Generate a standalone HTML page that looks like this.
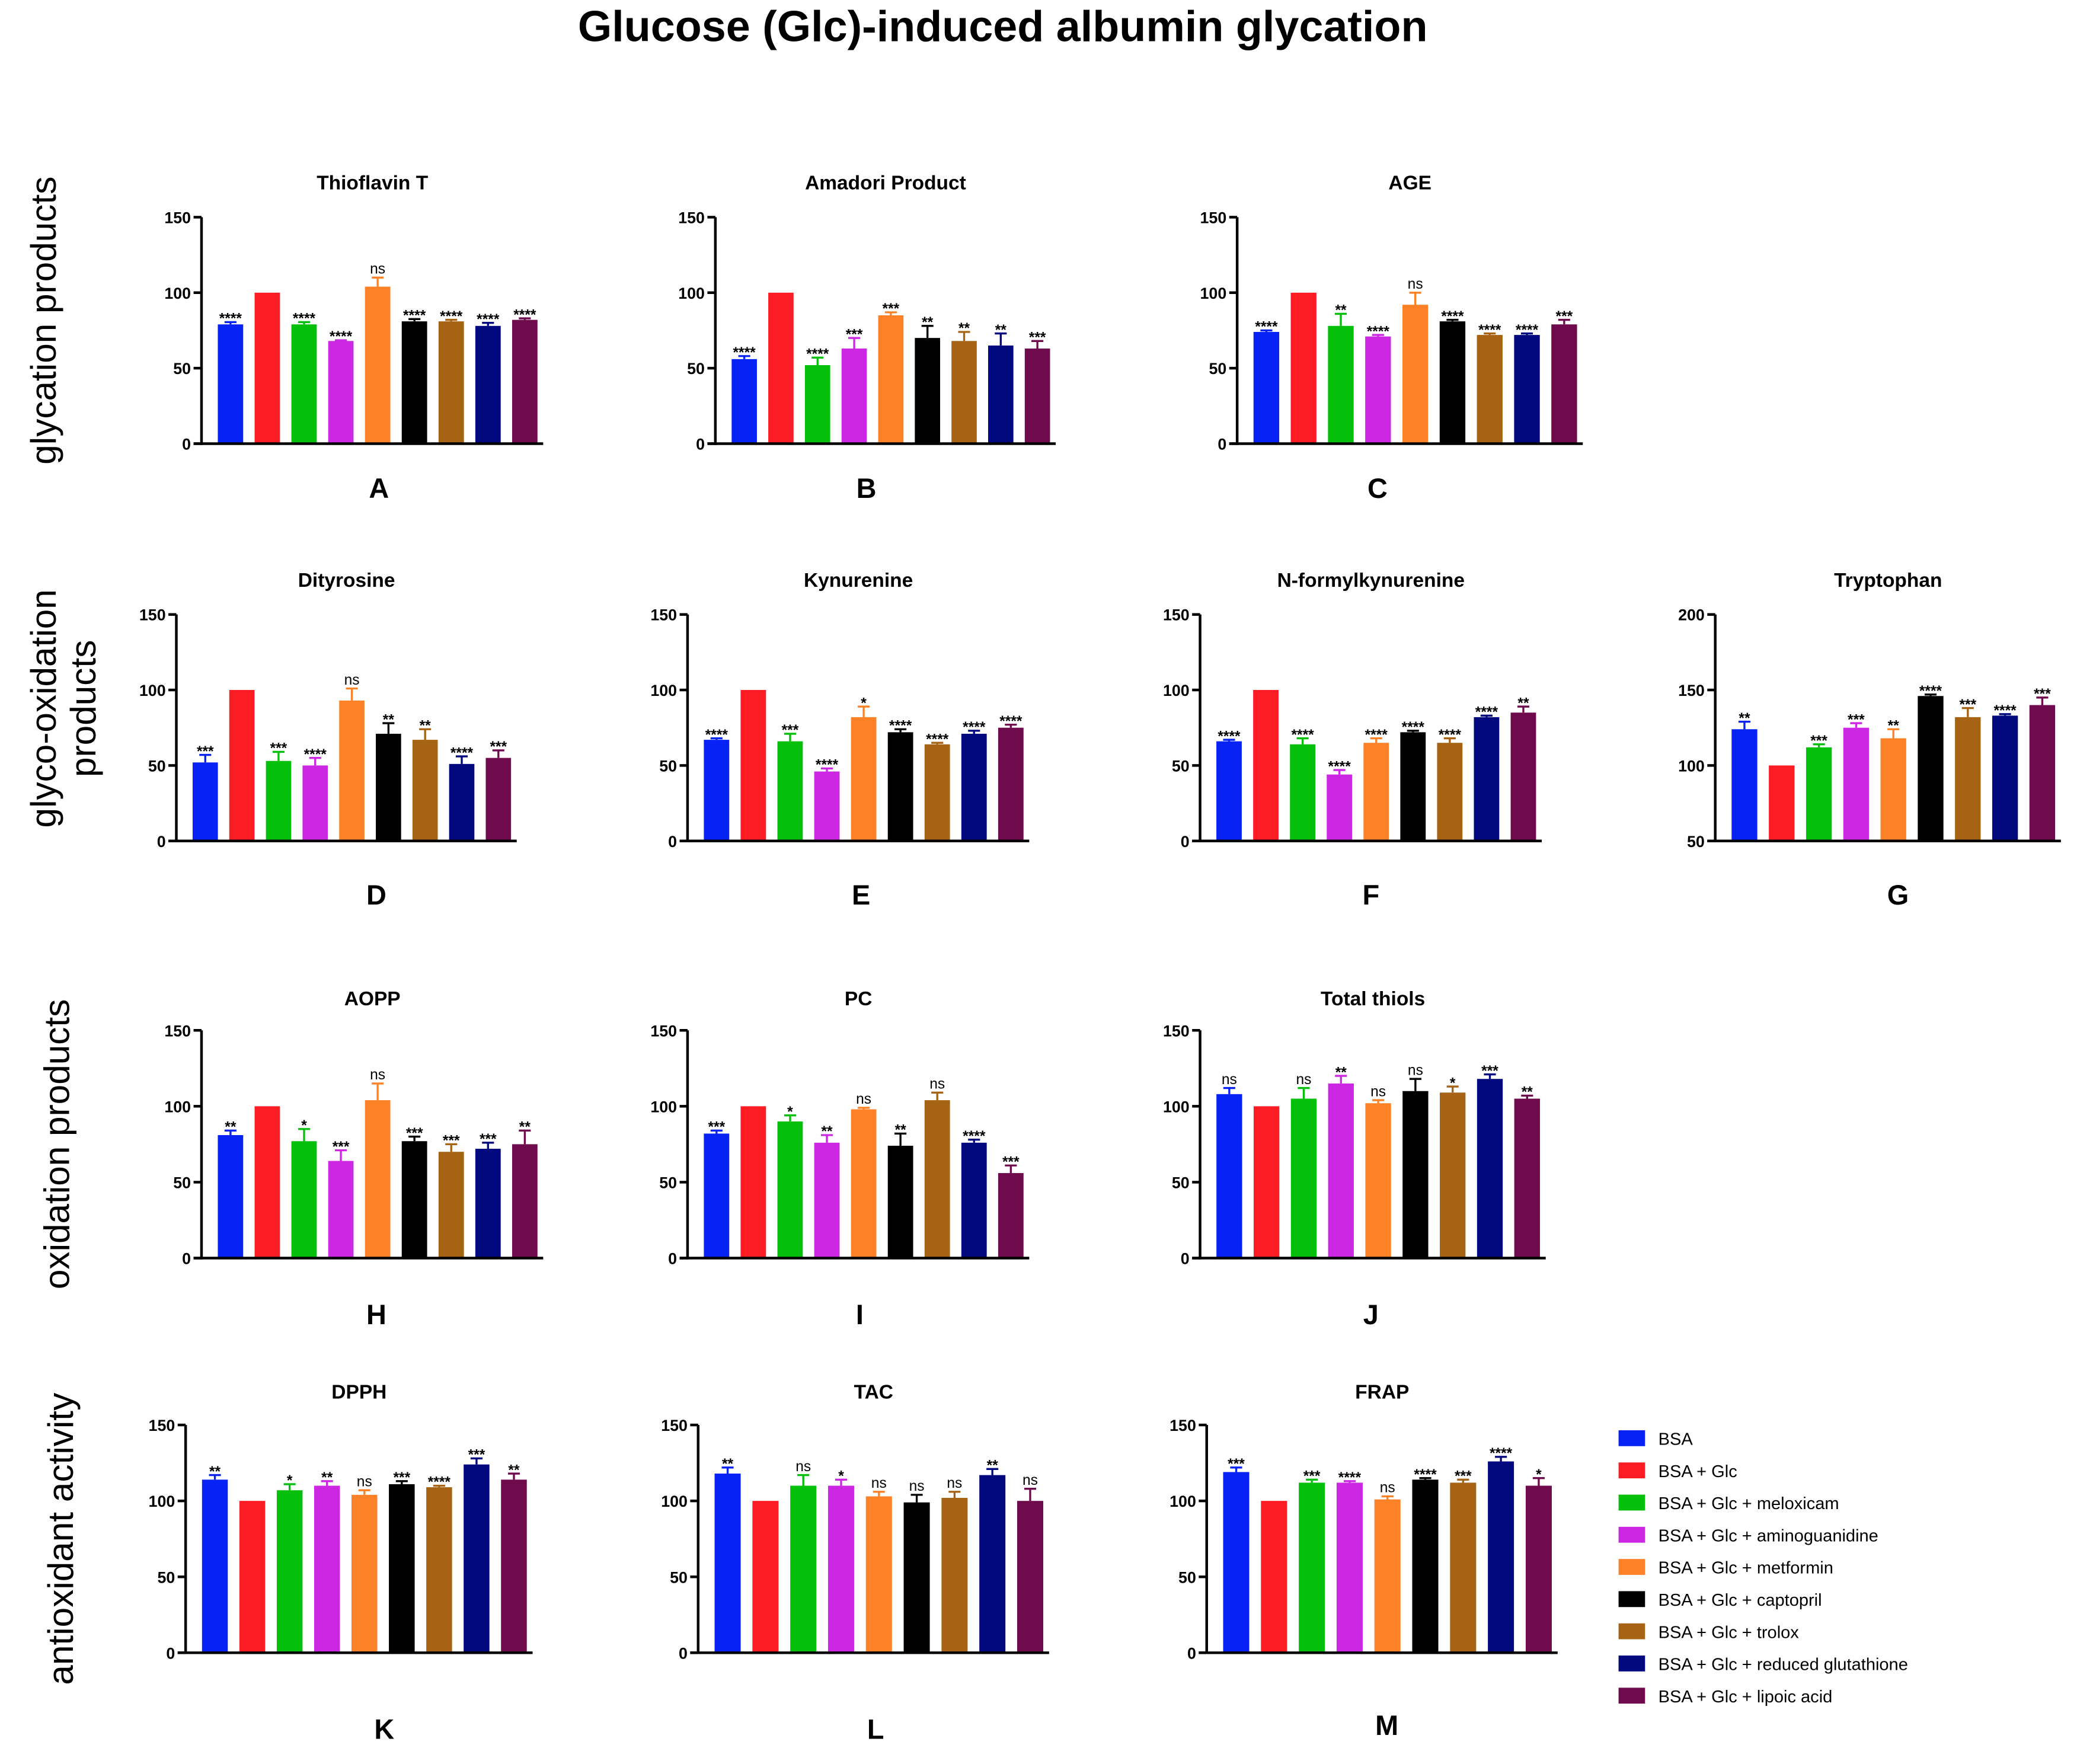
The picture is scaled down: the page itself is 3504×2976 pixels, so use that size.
<!DOCTYPE html>
<html><head><meta charset="utf-8"><style>
html,body{margin:0;padding:0;background:#fff}
svg{display:block}
text{font-family:"Liberation Sans",sans-serif}
</style></head><body>
<svg id="fig" width="3504" height="2976" viewBox="0 0 1568 1332" xmlns="http://www.w3.org/2000/svg">
<rect width="1568" height="1332" fill="#fff"/>
<text x="757" y="31" text-anchor="middle" font-size="33" font-weight="bold">Glucose (Glc)-induced albumin glycation</text>
<text transform="translate(42,242) rotate(-90)" text-anchor="middle" font-size="27">glycation products</text>
<text transform="translate(42,535) rotate(-90)" text-anchor="middle" font-size="27">glyco-oxidation</text>
<text transform="translate(72,535) rotate(-90)" text-anchor="middle" font-size="27">products</text>
<text transform="translate(52,864) rotate(-90)" text-anchor="middle" font-size="27">oxidation products</text>
<text transform="translate(55,1162) rotate(-90)" text-anchor="middle" font-size="27">antioxidant activity</text>
<g id="panels"></g>
<g id="legend"></g>
</svg>
<script>
const groups=["BSA","BSA + Glc","BSA + Glc + meloxicam","BSA + Glc + aminoguanidine","BSA + Glc + metformin","BSA + Glc + captopril","BSA + Glc + trolox","BSA + Glc + reduced glutathione","BSA + Glc + lipoic acid"];
const colors=["#0722f5","#fc1c24","#05c00b","#cc27e2","#fd8227","#000000","#a66313","#02097e","#6f0a4d"];
const panelTitles=["Thioflavin T","Amadori Product","AGE","Dityrosine","Kynurenine","N-formylkynurenine","Tryptophan","AOPP","PC","Total thiols","DPPH","TAC","FRAP"];
const panelLetters=["A","B","C","D","E","F","G","H","I","J","K","L","M"];
const yMins=[0,0,0,0,0,0,50,0,0,0,0,0,0];
const yMaxs=[150,150,150,150,150,150,200,150,150,150,150,150,150];
const yTicks=[[0,50,100,150],[0,50,100,150],[0,50,100,150],[0,50,100,150],[0,50,100,150],[0,50,100,150],[50,100,150,200],[0,50,100,150],[0,50,100,150],[0,50,100,150],[0,50,100,150],[0,50,100,150],[0,50,100,150]];
const means=[
[79,100,79,68,104,81,81,78,82],
[56,100,52,63,85,70,68,65,63],
[74,100,78,71,92,81,72,72,79],
[52,100,53,50,93,71,67,51,55],
[67,100,66,46,82,72,64,71,75],
[66,100,64,44,65,72,65,82,85],
[124,100,112,125,118,146,132,133,140],
[81,100,77,64,104,77,70,72,75],
[82,100,90,76,98,74,104,76,56],
[108,100,105,115,102,110,109,118,105],
[114,100,107,110,104,111,109,124,114],
[118,100,110,110,103,99,102,117,100],
[119,100,112,112,101,114,112,126,110]];
const errs=[
[1.5,0,1.5,0.5,6,1.5,1,2,1],
[2,0,5,7,2,8,6,8,5],
[1,0,8,1,8,1,1,1,3],
[5,0,6,5,8,7,7,5,5],
[1,0,5,2,7,2,1,2,2],
[1,0,4,3,3,1,3,1,4],
[5,0,2,3,6,1,6,1,5],
[3,0,8,7,11,3,5,4,9],
[2,0,4,5,1,8,5,2,5],
[4,0,7,5,2,8,4,3,2],
[3,0,4,3,3,2,1,4,4],
[4,0,7,4,3,5,4,4,8],
[3,0,2,1,2,1,2,3,5]];
const sigs=[
["****","","****","****","ns","****","****","****","****"],
["****","","****","***","***","**","**","**","***"],
["****","","**","****","ns","****","****","****","***"],
["***","","***","****","ns","**","**","****","***"],
["****","","***","****","*","****","****","****","****"],
["****","","****","****","****","****","****","****","**"],
["**","","***","***","**","****","***","****","***"],
["**","","*","***","ns","***","***","***","**"],
["***","","*","**","ns","**","ns","****","***"],
["ns","","ns","**","ns","ns","*","***","**"],
["**","","*","**","ns","***","****","***","**"],
["**","","ns","*","ns","ns","ns","**","ns"],
["***","","***","****","ns","****","***","****","*"]];
// layout: [axisX, topY, bottomY, rightX, titleY, letterY, letterX]
const layout=[
[152,164,335,410,143,376,286],[540,164,335,797,143,376,654],[934,164,335,1195,143,376,1040],
[133,464,635,390,443,683,284],[519,464,635,777,443,683,650],[906,464,635,1164,443,683,1035],[1295,464,635,1556,443,683,1433],
[152,778,950,410,759,1000,284],[519,778,950,777,759,1000,649],[906,778,950,1167,759,1000,1035],
[140,1076,1248,402,1056,1313,290],[527,1076,1248,792,1056,1313,661],[911,1076,1248,1176,1056,1310,1047]];
const NS="http://www.w3.org/2000/svg";
function mk(tag,attrs,parent){const e=document.createElementNS(NS,tag);for(const k in attrs)e.setAttribute(k,attrs[k]);parent.appendChild(e);return e;}
const root=document.getElementById('panels');
for(let p=0;p<13;p++){
  const [ax,ty,by,rx,tY,lY,lX]=layout[p];
  const g=mk('g',{},root);
  
  
  const y=v=>by-(v-yMins[p])/(yMaxs[p]-yMins[p])*(by-ty);
  const pitch=(rx-ax-8)/9;
  const bw=pitch*0.69;
  const cx=i=>ax+8+pitch*i+pitch*0.5;
  const t=mk('text',{x:(ax+rx)/2,y:tY,'text-anchor':'middle','font-size':15,'font-weight':'bold'},g);
  t.textContent=panelTitles[p];
  
  
  const L=mk('text',{x:lX,y:lY,'text-anchor':'middle','font-size':21,'font-weight':'bold'},g);
  L.textContent=panelLetters[p];
  
  
  for(let i=0;i<9;i++){
    const v=means[p][i],e=errs[p][i],c=colors[i];
    const x0=cx(i)-bw/2;
    const r=mk('rect',{x:x0,y:y(v),width:bw,height:by-y(v),fill:c},g);
    
    
    if(e>0){
      mk('line',{x1:cx(i),x2:cx(i),y1:y(v),y2:y(v+e),stroke:c,'stroke-width':1.5},g);
      mk('line',{x1:cx(i)-4.5,x2:cx(i)+4.5,y1:y(v+e),y2:y(v+e),stroke:c,'stroke-width':1.5},g);
    }
    if(sigs[p][i]){
      const s=mk('text',{x:cx(i),y:y(v+e)-(sigs[p][i]=='ns'?3:-1),'text-anchor':'middle','font-size':11,'font-weight':sigs[p][i]=='ns'?'normal':'bold'},g);
      s.textContent=sigs[p][i];
      
      
    }
  }
  mk('line',{x1:ax,x2:ax,y1:ty,y2:by+1,stroke:'#000','stroke-width':2},g);
  mk('line',{x1:ax-6,x2:rx,y1:by,y2:by,stroke:'#000','stroke-width':2},g);
  yTicks[p].forEach(tv=>{
    mk('line',{x1:ax-6,x2:ax,y1:y(tv),y2:y(tv),stroke:'#000','stroke-width':2},g);
    const tt=mk('text',{x:ax-8,y:y(tv)+4.5,'text-anchor':'end','font-size':12,'font-weight':'bold'},g);
    tt.textContent=tv;
    
    
  });
}
const lg=document.getElementById('legend');
groups.forEach((n,i)=>{
  const yy=1086+i*24.3;
  const r=mk('rect',{x:1222,y:yy-6,width:20,height:12,fill:colors[i]},lg);
  
  
  const t=mk('text',{x:1252,y:yy+5,'font-size':13},lg);
  t.textContent=n;
  
  
});
</script>
</body></html>
